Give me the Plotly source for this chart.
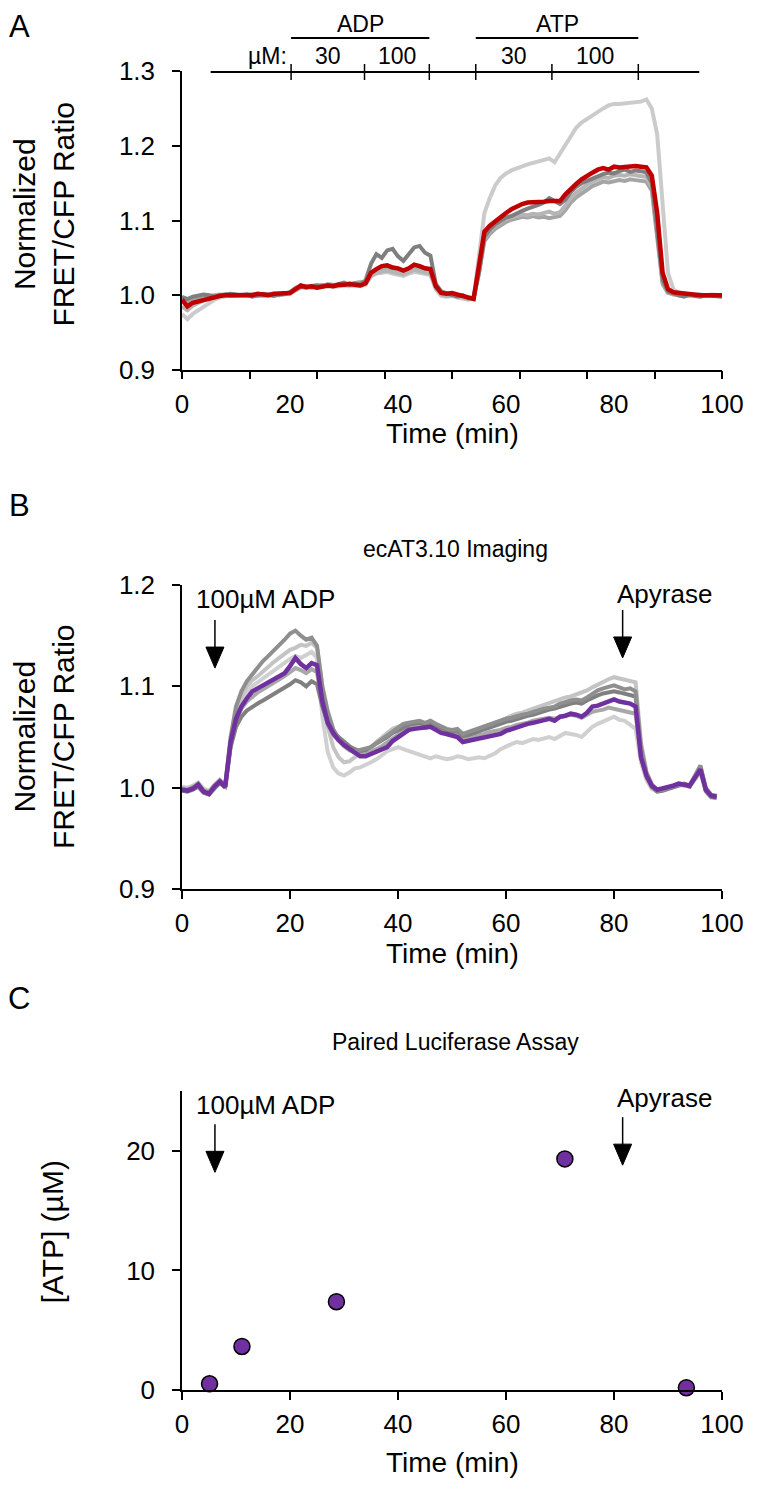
import plotly.graph_objects as go

W, H = 766, 1505
OFF = 8  # the page body margin shifts the figure by this many pixels


def px(x):
    return (x - OFF) / W


def py(y):
    return 1 - (y - OFF) / H


# ---------------- Panel A data ----------------
t_A = list(range(0, 101))
A_red = [0.994, 0.985, 0.990, 0.992, 0.994, 0.995, 0.997, 0.999, 1.000, 1.000,
         1.000, 1.001, 1.000, 1.000, 1.002, 1.001, 1.000, 1.002, 1.002, 1.003,
         1.003, 1.008, 1.013, 1.011, 1.012, 1.010, 1.012, 1.013, 1.012, 1.014,
         1.014, 1.015, 1.014, 1.013, 1.016, 1.030, 1.035, 1.039, 1.040, 1.037,
         1.036, 1.033, 1.036, 1.041, 1.039, 1.036, 1.035, 1.012, 1.003, 1.002,
         1.003, 1.001, 1.000, 0.997, 0.995, 1.040, 1.085, 1.093, 1.099, 1.105,
         1.110, 1.115, 1.119, 1.122, 1.124, 1.124, 1.125, 1.125, 1.126, 1.126,
         1.126, 1.135, 1.143, 1.149, 1.155, 1.160, 1.164, 1.168, 1.170, 1.168,
         1.172, 1.171, 1.172, 1.173, 1.173, 1.172, 1.171, 1.160, 1.110, 1.030,
         1.008, 1.004, 1.003, 1.002, 1.001, 1.000, 1.000, 1.000, 1.000, 1.000,
         1.000]
A_gray1 = [0.975, 0.968, 0.975, 0.980, 0.985, 0.990, 0.994, 0.997, 0.999, 1.000,
           1.001, 1.000, 0.999, 1.000, 1.001, 1.000, 0.999, 1.000, 1.001, 1.002,
           1.002, 1.006, 1.010, 1.010, 1.011, 1.010, 1.011, 1.012, 1.011, 1.012,
           1.013, 1.012, 1.013, 1.012, 1.014, 1.025, 1.029, 1.030, 1.031, 1.029,
           1.027, 1.026, 1.029, 1.031, 1.030, 1.028, 1.027, 1.008, 0.999, 0.998,
           0.999, 0.997, 0.996, 0.994, 0.995, 1.050, 1.110, 1.130, 1.147, 1.157,
           1.163, 1.167, 1.170, 1.173, 1.175, 1.177, 1.179, 1.181, 1.183, 1.178,
           1.190, 1.200, 1.214, 1.224, 1.231, 1.236, 1.241, 1.245, 1.250, 1.254,
           1.256, 1.256, 1.257, 1.258, 1.258, 1.259, 1.262, 1.250, 1.215, 1.120,
           1.030, 1.008, 1.003, 1.001, 1.000, 1.001, 1.000, 1.000, 1.001, 1.000,
           1.000]
A_gray2 = [0.998, 0.995, 0.998, 1.000, 1.001, 1.000, 0.998, 1.000, 1.001, 1.002,
           1.001, 1.000, 1.001, 0.998, 1.000, 1.002, 1.001, 0.999, 1.001, 1.002,
           1.004, 1.009, 1.012, 1.010, 1.011, 1.013, 1.012, 1.014, 1.013, 1.015,
           1.017, 1.014, 1.016, 1.015, 1.020, 1.042, 1.055, 1.050, 1.060, 1.062,
           1.052, 1.046, 1.055, 1.064, 1.066, 1.057, 1.053, 1.015, 1.005, 1.003,
           1.001, 0.998, 1.000, 0.996, 0.997, 1.030, 1.078, 1.088, 1.095, 1.100,
           1.104, 1.106, 1.110, 1.113, 1.116, 1.118, 1.121, 1.124, 1.130, 1.126,
           1.122, 1.128, 1.138, 1.145, 1.150, 1.153, 1.156, 1.160, 1.162, 1.164,
           1.163, 1.166, 1.168, 1.165, 1.167, 1.166, 1.164, 1.150, 1.090, 1.020,
           1.005, 1.002, 1.000, 0.998, 1.001, 0.999, 0.998, 1.000, 0.999, 0.998,
           0.998]
A_gray3 = [0.992, 0.990, 0.993, 0.996, 0.998, 0.999, 1.000, 1.001, 1.000, 0.999,
           1.000, 1.001, 1.000, 1.001, 0.999, 1.000, 1.001, 1.001, 1.000, 1.001,
           1.003, 1.007, 1.011, 1.012, 1.010, 1.012, 1.014, 1.012, 1.013, 1.012,
           1.014, 1.016, 1.015, 1.014, 1.016, 1.028, 1.033, 1.035, 1.037, 1.034,
           1.032, 1.030, 1.033, 1.036, 1.035, 1.033, 1.031, 1.010, 1.002, 1.000,
           1.002, 1.000, 0.998, 0.996, 0.996, 1.030, 1.072, 1.082, 1.089, 1.094,
           1.098, 1.101, 1.103, 1.105, 1.104, 1.106, 1.104, 1.105, 1.103, 1.104,
           1.106, 1.114, 1.124, 1.131, 1.136, 1.141, 1.146, 1.149, 1.152, 1.151,
           1.153, 1.154, 1.153, 1.155, 1.154, 1.153, 1.152, 1.140, 1.080, 1.015,
           1.003, 1.001, 1.000, 0.999, 1.000, 1.000, 0.999, 1.000, 1.000, 0.999,
           0.999]
A_gray4 = [0.985, 0.980, 0.986, 0.990, 0.994, 0.997, 0.999, 1.000, 1.001, 1.000,
           0.999, 1.000, 1.002, 1.001, 1.000, 0.999, 1.001, 1.002, 1.000, 1.002,
           1.004, 1.010, 1.013, 1.011, 1.013, 1.014, 1.012, 1.015, 1.014, 1.013,
           1.015, 1.014, 1.016, 1.018, 1.017, 1.026, 1.030, 1.032, 1.033, 1.031,
           1.029, 1.028, 1.031, 1.034, 1.032, 1.030, 1.029, 1.009, 1.001, 0.999,
           1.000, 0.999, 0.997, 0.995, 0.996, 1.035, 1.076, 1.086, 1.093, 1.098,
           1.102, 1.104, 1.106, 1.108, 1.107, 1.109, 1.108, 1.110, 1.112, 1.109,
           1.111, 1.120, 1.130, 1.137, 1.143, 1.148, 1.152, 1.155, 1.158, 1.157,
           1.160, 1.161, 1.160, 1.162, 1.161, 1.160, 1.158, 1.145, 1.085, 1.018,
           1.004, 1.001, 1.000, 1.000, 0.999, 1.000, 1.001, 0.999, 1.000, 1.000,
           1.000]
A_grays = [A_gray1, A_gray3, A_gray4, A_gray2]
A_gray_colors = ["#cbcbcb", "#a5a5a5", "#b5b5b5", "#7f7f7f"]

# treatment timeline (minutes)
timeline_span = [5.3, 95.8]
timeline_ticks = [20.2, 33.8, 45.8, 54.4, 68.5, 84.5]
conc_labels = [("30", 27.0), ("100", 39.8), ("30", 61.5), ("100", 76.5)]
drug_labels = [("ADP", 20.2, 45.8), ("ATP", 54.4, 84.5)]

# ---------------- Panel B data ----------------
t_B = list(range(0, 100))
B_purple = [0.998, 0.997, 0.999, 1.003, 0.996, 0.994, 1.001, 1.006, 1.001, 1.045,
            1.068, 1.080, 1.088, 1.095, 1.098, 1.101, 1.104, 1.107, 1.110, 1.113,
            1.120, 1.128, 1.122, 1.118, 1.123, 1.121, 1.085, 1.064, 1.054, 1.047,
            1.042, 1.038, 1.034, 1.031, 1.031, 1.033, 1.035, 1.037, 1.040, 1.046,
            1.050, 1.054, 1.057, 1.058, 1.059, 1.060, 1.060, 1.057, 1.054, 1.053,
            1.052, 1.050, 1.045, 1.046, 1.047, 1.048, 1.050, 1.051, 1.052, 1.053,
            1.056, 1.058, 1.060, 1.061, 1.063, 1.064, 1.065, 1.067, 1.068, 1.066,
            1.070, 1.071, 1.073, 1.072, 1.070, 1.074, 1.080, 1.081, 1.083, 1.086,
            1.087, 1.085, 1.084, 1.083, 1.080, 1.030, 1.012, 1.002, 0.998, 0.999,
            1.000, 1.002, 1.004, 1.003, 1.002, 1.010, 1.018, 0.998, 0.992, 0.991]
B_gray1 = [0.999, 0.998, 1.000, 1.004, 0.997, 0.995, 1.002, 1.007, 1.002, 1.050,
           1.080, 1.095, 1.105, 1.112, 1.118, 1.125, 1.130, 1.135, 1.140, 1.146,
           1.152, 1.155, 1.150, 1.146, 1.148, 1.140, 1.100, 1.075, 1.058, 1.048,
           1.042, 1.038, 1.036, 1.037, 1.038, 1.040, 1.044, 1.048, 1.052, 1.056,
           1.060, 1.063, 1.064, 1.065, 1.066, 1.064, 1.066, 1.063, 1.060, 1.058,
           1.057, 1.058, 1.053, 1.055, 1.057, 1.058, 1.060, 1.062, 1.064, 1.066,
           1.068, 1.069, 1.071, 1.072, 1.073, 1.075, 1.076, 1.078, 1.079, 1.080,
           1.083, 1.085, 1.086, 1.087, 1.086, 1.089, 1.093, 1.096, 1.098, 1.100,
           1.101, 1.099, 1.097, 1.098, 1.095, 1.040, 1.015, 1.003, 0.997, 0.998,
           1.000, 1.001, 1.003, 1.004, 1.002, 1.012, 1.022, 1.000, 0.993, 0.992]
B_gray2 = [1.000, 0.999, 1.001, 1.002, 0.998, 0.996, 1.000, 1.004, 1.001, 1.045,
           1.075, 1.090, 1.100, 1.106, 1.110, 1.115, 1.120, 1.124, 1.128, 1.132,
           1.136, 1.138, 1.141, 1.140, 1.143, 1.138, 1.095, 1.060, 1.040, 1.030,
           1.025, 1.026, 1.030, 1.033, 1.036, 1.040, 1.045, 1.050, 1.054, 1.058,
           1.060, 1.062, 1.061, 1.063, 1.062, 1.060, 1.061, 1.058, 1.056, 1.054,
           1.053, 1.055, 1.050, 1.052, 1.055, 1.057, 1.059, 1.062, 1.064, 1.066,
           1.069, 1.071, 1.073, 1.074, 1.076, 1.078, 1.080, 1.082, 1.084, 1.085,
           1.087, 1.089, 1.090, 1.092, 1.093, 1.096, 1.099, 1.102, 1.105, 1.107,
           1.109, 1.108, 1.107, 1.106, 1.104, 1.045, 1.016, 1.003, 0.998, 0.999,
           1.001, 1.002, 1.004, 1.003, 1.003, 1.011, 1.020, 0.999, 0.992, 0.991]
B_gray3 = [0.997, 0.996, 0.998, 1.001, 0.995, 0.993, 0.999, 1.005, 1.000, 1.040,
           1.060, 1.070, 1.076, 1.080, 1.083, 1.086, 1.089, 1.092, 1.095, 1.098,
           1.102, 1.106, 1.104, 1.100, 1.105, 1.102, 1.080, 1.064, 1.056, 1.050,
           1.045, 1.041, 1.038, 1.036, 1.037, 1.040, 1.043, 1.046, 1.050, 1.054,
           1.057, 1.060, 1.062, 1.063, 1.064, 1.062, 1.064, 1.061, 1.059, 1.056,
           1.055, 1.056, 1.051, 1.052, 1.054, 1.055, 1.057, 1.059, 1.061, 1.063,
           1.065, 1.066, 1.068, 1.070, 1.071, 1.072, 1.074, 1.076, 1.077, 1.078,
           1.080, 1.082, 1.083, 1.084, 1.083, 1.086, 1.089, 1.091, 1.093, 1.094,
           1.095, 1.094, 1.093, 1.092, 1.090, 1.035, 1.012, 1.001, 0.996, 0.997,
           0.999, 1.001, 1.002, 1.003, 1.001, 1.010, 1.021, 0.997, 0.991, 0.990]
B_gray4 = [1.001, 1.000, 1.002, 1.005, 0.999, 0.997, 1.003, 1.008, 1.003, 1.045,
           1.072, 1.085, 1.094, 1.100, 1.104, 1.108, 1.112, 1.116, 1.120, 1.123,
           1.127, 1.130, 1.128, 1.131, 1.134, 1.128, 1.070, 1.035, 1.020, 1.014,
           1.012, 1.015, 1.019, 1.020, 1.022, 1.025, 1.028, 1.032, 1.036, 1.038,
           1.040, 1.038, 1.036, 1.034, 1.032, 1.030, 1.029, 1.031, 1.030, 1.028,
           1.029, 1.031, 1.030, 1.028, 1.029, 1.030, 1.029, 1.031, 1.034, 1.038,
           1.041, 1.043, 1.045, 1.044, 1.046, 1.048, 1.047, 1.049, 1.050, 1.048,
           1.051, 1.054, 1.053, 1.052, 1.050, 1.055, 1.060, 1.063, 1.065, 1.068,
           1.070, 1.067, 1.066, 1.062, 1.058, 1.025, 1.008, 0.999, 0.996, 0.998,
           1.000, 1.002, 1.003, 1.002, 1.001, 1.008, 1.015, 0.996, 0.990, 0.990]
B_gray5 = [0.998, 0.997, 0.999, 1.002, 0.996, 0.994, 1.000, 1.005, 1.001, 1.042,
           1.066, 1.078, 1.085, 1.090, 1.094, 1.097, 1.100, 1.103, 1.106, 1.110,
           1.114, 1.118, 1.116, 1.113, 1.117, 1.114, 1.082, 1.062, 1.052, 1.046,
           1.041, 1.037, 1.034, 1.032, 1.033, 1.035, 1.038, 1.041, 1.045, 1.049,
           1.053, 1.056, 1.058, 1.059, 1.060, 1.059, 1.060, 1.058, 1.055, 1.053,
           1.052, 1.053, 1.048, 1.049, 1.050, 1.052, 1.053, 1.055, 1.056, 1.057,
           1.059, 1.060, 1.062, 1.063, 1.064, 1.066, 1.067, 1.068, 1.069, 1.068,
           1.070, 1.071, 1.072, 1.071, 1.069, 1.072, 1.075, 1.076, 1.077, 1.079,
           1.078, 1.077, 1.076, 1.075, 1.073, 1.030, 1.010, 1.000, 0.997, 0.998,
           1.000, 1.001, 1.003, 1.002, 1.001, 1.009, 1.017, 0.997, 0.991, 0.990]
B_grays = [B_gray4, B_gray2, B_gray5, B_gray3, B_gray1]
B_gray_colors = ["#d0d0d0", "#c4c4c4", "#a8a8a8", "#808080", "#8f8f8f"]

# ---------------- Panel C data ----------------
C_time = [5.1, 11.1, 28.6, 70.9, 93.4]
C_atp = [0.52, 3.64, 7.38, 19.32, 0.19]

# event markers (minutes) and arrow tip levels
adp_time = 6.1
apyrase_time = 81.6
B_tips = {"adp": 1.118, "apy": 1.128}
C_tips = {"adp": 18.2, "apy": 18.8}

SANS = "Liberation Sans, Arial"
RED = "#c00000"
PURPLE = "#7030a0"

# layout geometry (pixels on the final page)
X_LEFT, X_RIGHT = 182, 722
A_TOP, A_BOT = 71, 370
B_TOP, B_BOT = 585, 889
C_TOP, C_BOT = 1091, 1390
XMID = (X_LEFT + X_RIGHT) / 2

fig = go.Figure()

for vals, col in zip(A_grays, A_gray_colors):
    fig.add_trace(go.Scatter(x=t_A, y=vals, mode="lines", xaxis="x", yaxis="y",
                             line=dict(color=col, width=4), showlegend=False,
                             hoverinfo="skip"))
fig.add_trace(go.Scatter(x=t_A, y=A_red, mode="lines", xaxis="x", yaxis="y",
                         line=dict(color=RED, width=4.5), showlegend=False,
                         hoverinfo="skip"))
fig.add_trace(go.Scatter(x=[0, 100], y=[1.0, 1.0], mode="lines", xaxis="x4", yaxis="y",
                         line=dict(width=0), showlegend=False, hoverinfo="skip"))

for vals, col in zip(B_grays, B_gray_colors):
    fig.add_trace(go.Scatter(x=t_B, y=vals, mode="lines", xaxis="x2", yaxis="y2",
                             line=dict(color=col, width=4), showlegend=False,
                             hoverinfo="skip"))
fig.add_trace(go.Scatter(x=t_B, y=B_purple, mode="lines", xaxis="x2", yaxis="y2",
                         line=dict(color=PURPLE, width=4.5), showlegend=False,
                         hoverinfo="skip"))

fig.add_trace(go.Scatter(x=C_time, y=C_atp, mode="markers", xaxis="x3", yaxis="y3",
                         marker=dict(color=PURPLE, size=16,
                                     line=dict(color="black", width=1.5)),
                         showlegend=False, hoverinfo="skip", cliponaxis=False))

XDOM = [px(X_LEFT), px(X_RIGHT)]
axis_common = dict(showline=True, linecolor="black", linewidth=1.5, showgrid=False,
                   zeroline=False, ticks="outside", ticklen=8, tickwidth=1.5,
                   tickcolor="black", automargin=False,
                   tickfont=dict(family=SANS, size=26, color="black"))
x_common = dict(axis_common, ticklabelstandoff=2)
y_common = dict(axis_common, ticklabelstandoff=12)
XT = [0, 20, 40, 60, 80, 100]

fig.update_layout(
    width=W, height=H,
    margin=dict(l=0, r=0, t=0, b=0, autoexpand=False),
    paper_bgcolor="white", plot_bgcolor="white",
    xaxis=dict(domain=XDOM, anchor="y", range=[0, 100], tickvals=XT,
               **{**x_common, "ticklen": 8, "tickcolor": "rgba(0,0,0,0)"}),
    xaxis4=dict(domain=XDOM, anchor="y", overlaying="x", range=[0, 100],
                tickvals=[0, 12.5, 25, 37.5, 50, 62.5, 75, 87.5, 100],
                showticklabels=False, showline=False, showgrid=False, zeroline=False,
                ticks="outside", ticklen=8, tickwidth=1.5, tickcolor="black",
                automargin=False),
    yaxis=dict(domain=[py(A_BOT), py(A_TOP)], anchor="x", range=[0.9, 1.3],
               tickvals=[0.9, 1.0, 1.1, 1.2, 1.3], tickformat=".1f", **y_common),
    xaxis2=dict(domain=XDOM, anchor="y2", range=[0, 100], tickvals=XT, **x_common),
    yaxis2=dict(domain=[py(B_BOT), py(B_TOP)], anchor="x2", range=[0.9, 1.2],
                tickvals=[0.9, 1.0, 1.1, 1.2], tickformat=".1f", **y_common),
    xaxis3=dict(domain=XDOM, anchor="y3", range=[0, 100], tickvals=XT, **x_common),
    yaxis3=dict(domain=[py(C_BOT), py(C_TOP)], anchor="x3", range=[0, 25],
                tickvals=[0, 10, 20], **y_common),
)

shapes = []
ann = []


def text(x, y, s, size, xref="paper", yref="paper", xanchor="center", **kw):
    ann.append(dict(x=x, y=y, xref=xref, yref=yref, text=s, showarrow=False,
                    xanchor=xanchor, yanchor="middle",
                    font=dict(family=SANS, size=size, color="black"), **kw))


# Panel A timeline (x in minutes, y in page pixels)
shapes.append(dict(type="line", xref="x", yref="paper", x0=timeline_span[0],
                   x1=timeline_span[1], y0=py(A_TOP + 1), y1=py(A_TOP + 1),
                   line=dict(color="black", width=1.8)))
for tk in timeline_ticks:
    shapes.append(dict(type="line", xref="x", yref="paper", x0=tk, x1=tk,
                       y0=py(A_TOP + 9), y1=py(A_TOP - 7),
                       line=dict(color="black", width=1.5)))
for name, a, b in drug_labels:
    shapes.append(dict(type="line", xref="x", yref="paper", x0=a, x1=b,
                       y0=py(38), y1=py(38), line=dict(color="black", width=1.8)))
    text((a + b) / 2, py(24), name, 23, xref="x")
for s, xv in conc_labels:
    text(xv, py(56), s, 23, xref="x")
text(timeline_ticks[0], py(56), "µM:", 23, xref="x", xanchor="right", xshift=-2)

# panel letters and titles
for letter, yy in [("A", 27), ("B", 505), ("C", 998)]:
    text(px(19), py(yy), letter, 31)
text(px(455), py(549), "ecAT3.10 Imaging", 23)
text(px(455), py(1042), "Paired Luciferase Assay", 23)

# axis titles
for yc in [(A_TOP + A_BOT) / 2 - 6, (B_TOP + B_BOT) / 2]:
    text(px(44), py(yc), "Normalized<br>FRET/CFP Ratio", 30, textangle=-90)
text(px(52), py((C_TOP + C_BOT) / 2 - 8), "[ATP] (µM)", 30, textangle=-90)
for yy in [A_BOT + 64, B_BOT + 64, C_BOT + 72]:
    text(px(XMID), py(yy), "Time (min)", 28)


def arrow(xref, yref, xv, tip):
    # shaft + narrow triangular head, sized in pixels around the event time
    shapes.append(dict(type="line", xref=xref, yref=yref, xsizemode="pixel",
                       ysizemode="pixel", xanchor=xv, yanchor=tip,
                       x0=0, x1=0, y0=18, y1=48, line=dict(color="black", width=1.5)))
    shapes.append(dict(type="path", xref=xref, yref=yref, xsizemode="pixel",
                       ysizemode="pixel", xanchor=xv, yanchor=tip,
                       path="M0,0 L-9,21 L9,21 Z", fillcolor="black",
                       line=dict(color="black", width=1)))


# Panel B annotations
text(2.2, 1.186, "100µM ADP", 26, xref="x2", yref="y2", xanchor="left")
text(apyrase_time - 1.4, 1.191, "Apyrase", 26, xref="x2", yref="y2", xanchor="left")
arrow("x2", "y2", adp_time, B_tips["adp"])
arrow("x2", "y2", apyrase_time, B_tips["apy"])

# Panel C annotations
text(2.2, 23.8, "100µM ADP", 26, xref="x3", yref="y3", xanchor="left")
text(apyrase_time - 1.4, 24.4, "Apyrase", 26, xref="x3", yref="y3", xanchor="left")
arrow("x3", "y3", adp_time, C_tips["adp"])
arrow("x3", "y3", apyrase_time, C_tips["apy"])

fig.update_layout(shapes=shapes, annotations=ann)
fig.write_html("out.html")
